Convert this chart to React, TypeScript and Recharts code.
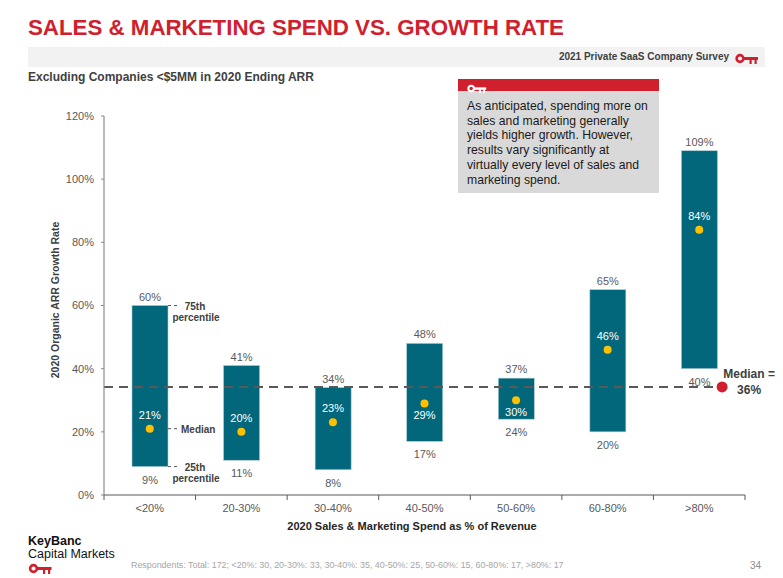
import React from "react";
import {
  ComposedChart,
  Bar,
  Scatter,
  XAxis,
  YAxis,
  ReferenceLine,
} from "recharts";

// spend buckets and growth percentiles
const categories = ["<20%", "20-30%", "30-40%", "40-50%", "50-60%", "60-80%", ">80%"];
const p25 = [9, 11, 8, 17, 24, 20, 40];
const p75 = [60, 41, 34, 48, 37, 65, 109];
const medians = [21, 20, 23, 29, 30, 46, 84];
const medianLabelBelow = ["40-50%", "50-60%"];
const yTicks = [0, 20, 40, 60, 80, 100, 120];
const overallMedianLevel = 34.2;
const overallMedianText = "36%";
const respondents =
  "Respondents: Total: 172; <20%: 30, 20-30%: 33, 30-40%: 35, 40-50%: 25, 50-60%: 15, 60-80%: 17, >80%: 17";

const data = categories.map((cat, i) => ({
  cat,
  range: [p25[i], p75[i]],
  low: p25[i],
  high: p75[i],
  median: medians[i],
}));

const FONT = "'Liberation Sans', Arial, sans-serif";
const RED = "#D0202E";
const TEAL = "#02677A";
const GREY = "#595959";
const DARK = "#404040";

const W = 783;
const H = 578;
const M = { top: 116, right: 38, bottom: 43, left: 44 };
const Y_W = 60;
const BAND = (W - M.left - Y_W - M.right) / categories.length;

function Key({ color = RED, w = 24, h = 12 }: { color?: string; w?: number; h?: number }) {
  return (
    <svg width={w} height={h} viewBox="0 0 24 12">
      <circle cx={5} cy={5.5} r={3.4} fill="none" stroke={color} strokeWidth={2.6} />
      <rect x={8} y={4} width={15} height={3} fill={color} />
      <rect x={14.5} y={6.5} width={2.2} height={4.5} fill={color} />
      <rect x={19.5} y={6.5} width={2.2} height={4.5} fill={color} />
    </svg>
  );
}

const BarShape = (props: any) => {
  const { x, y, width, height, payload } = props;
  const top = Math.min(y, y + height);
  const h = Math.abs(height);
  const bottom = top + h;
  const right = x + width;
  const cx = x + width / 2;
  const my = top + (h * (payload.high - payload.median)) / (payload.high - payload.low);
  const first = payload.cat === categories[0];
  const note = { fontSize: 10, fontWeight: 700, fill: DARK, fontFamily: FONT };
  return (
    <g>
      <rect x={x} y={top} width={width} height={h} fill={TEAL} stroke="#a9cbd3" strokeWidth={0.6} />
      <text x={cx} y={top - 5} textAnchor="middle" fontSize={11} fill={GREY} fontFamily={FONT}>
        {payload.high}%
      </text>
      <text x={cx} y={bottom + 17} textAnchor="middle" fontSize={11} fill={GREY} fontFamily={FONT}>
        {payload.low}%
      </text>
      {first && (
        <g>
          <line x1={right} x2={right + 10} y1={top} y2={top} stroke={GREY} strokeDasharray="3 3" />
          <text x={right + 27} y={top + 4} textAnchor="middle" {...note}>75th</text>
          <text x={right + 28} y={top + 15} textAnchor="middle" {...note}>percentile</text>
          <line x1={right} x2={right + 10} y1={my} y2={my} stroke={GREY} strokeDasharray="3 3" />
          <text x={right + 13} y={my + 4} {...note}>Median</text>
          <line x1={right} x2={right + 10} y1={bottom} y2={bottom} stroke={GREY} strokeDasharray="3 3" />
          <text x={right + 27} y={bottom + 4} textAnchor="middle" {...note}>25th</text>
          <text x={right + 28} y={bottom + 15} textAnchor="middle" {...note}>percentile</text>
        </g>
      )}
    </g>
  );
};

const MedianDot = (props: any) => {
  const { cx, cy, payload } = props;
  const below = medianLabelBelow.includes(payload.cat);
  return (
    <g>
      <circle cx={cx} cy={cy} r={4} fill="#FFC000" />
      <text
        x={cx}
        y={below ? cy + 16 : cy - 10}
        textAnchor="middle"
        fontSize={11}
        fill="#ffffff"
        fontFamily={FONT}
      >
        {payload.median}%
      </text>
    </g>
  );
};

const XTick = (props: any) => {
  const { x, y, payload, index } = props;
  const last = index === categories.length - 1;
  return (
    <g>
      <line x1={x - BAND / 2} x2={x - BAND / 2} y1={y} y2={y + 5} stroke={GREY} />
      {last && <line x1={x + BAND / 2} x2={x + BAND / 2} y1={y} y2={y + 5} stroke={GREY} />}
      <text x={x} y={y + 17} textAnchor="middle" fontSize={11} fill={GREY} fontFamily={FONT}>
        {payload.value}
      </text>
    </g>
  );
};

// dashed overall-median line that stops at a red dot inside the last band
const MedianLine = (props: any) => {
  const { x1, y1 } = props;
  const xEnd = x1 + BAND * 6.75;
  const st = { fontSize: 12, fontWeight: 700, fill: DARK, fontFamily: FONT };
  return (
    <g>
      <line x1={x1} x2={xEnd} y1={y1} y2={y1} stroke={GREY} strokeWidth={2} strokeDasharray="9 6" />
      <circle cx={xEnd} cy={y1} r={5.5} fill={RED} />
      <text x={xEnd + 27} y={y1 - 9} textAnchor="middle" {...st}>Median =</text>
      <text x={xEnd + 27} y={y1 + 7} textAnchor="middle" {...st}>{overallMedianText}</text>
    </g>
  );
};

export default function App() {
  return (
    <div
      style={{
        position: "absolute",
        left: 0,
        top: 0,
        width: W,
        height: H,
        background: "#fff",
        fontFamily: FONT,
        overflow: "hidden",
      }}
    >
      <ComposedChart width={W} height={H} data={data} margin={M}>
        <XAxis
          dataKey="cat"
          height={40}
          tickLine={false}
          tickSize={0}
          tickMargin={0}
          axisLine={{ stroke: GREY, strokeWidth: 1.2 }}
          tick={<XTick />}
          interval={0}
          label={{
            content: () => (
              <text x={412} y={530} textAnchor="middle" fontSize={11} fontWeight={700} fill="#262626" fontFamily={FONT}>
                2020 Sales &amp; Marketing Spend as % of Revenue
              </text>
            ),
          }}
        />
        <YAxis
          width={Y_W}
          domain={[0, 120]}
          ticks={yTicks}
          tickFormatter={(v: number) => `${v}%`}
          tick={{ fontSize: 11, fill: GREY, fontFamily: FONT }}
          tickSize={3}
          tickMargin={7}
          axisLine={{ stroke: "#8c8c8c", strokeWidth: 1.2 }}
          tickLine={{ stroke: "#8c8c8c" }}
          label={{
            content: () => (
              <text
                transform="translate(59,300) rotate(-90)"
                textAnchor="middle"
                fontSize={10.5}
                fontWeight={700}
                fill={DARK}
                fontFamily={FONT}
              >
                2020 Organic ARR Growth Rate
              </text>
            ),
          }}
        />
        <ReferenceLine y={overallMedianLevel} shape={<MedianLine />} ifOverflow="visible" />
        <Bar dataKey="range" barSize={36} shape={<BarShape />} isAnimationActive={false} />
        <Scatter dataKey="median" shape={<MedianDot />} isAnimationActive={false} />
      </ComposedChart>

      {/* header */}
      <div
        style={{
          position: "absolute",
          left: 28,
          top: 15,
          fontSize: 22.3,
          fontWeight: 700,
          color: RED,
          whiteSpace: "nowrap",
        }}
      >
        SALES &amp; MARKETING SPEND VS. GROWTH RATE
      </div>
      <div
        style={{
          position: "absolute",
          left: 28,
          top: 47,
          width: 737,
          height: 20,
          background: "#f2f2f2",
        }}
      />
      <div
        style={{
          position: "absolute",
          right: 54,
          top: 51,
          fontSize: 10,
          fontWeight: 700,
          color: DARK,
          whiteSpace: "nowrap",
        }}
      >
        2021 Private SaaS Company Survey
      </div>
      <div style={{ position: "absolute", left: 735, top: 51 }}>
        <Key />
      </div>
      <div
        style={{
          position: "absolute",
          left: 28,
          top: 70,
          fontSize: 12,
          fontWeight: 700,
          color: DARK,
          whiteSpace: "nowrap",
        }}
      >
        Excluding Companies &lt;$5MM in 2020 Ending ARR
      </div>

      {/* call-out box */}
      <div style={{ position: "absolute", left: 458, top: 79, width: 201 }}>
        <div style={{ height: 12, background: RED, paddingLeft: 9 }}>
          <div style={{ paddingTop: 1 }}>
            <Key color="#ffffff" w={20} h={10} />
          </div>
        </div>
        <div
          style={{
            background: "#d9d9d9",
            height: 102,
            boxSizing: "border-box",
            padding: "8px 0 0 9px",
            fontSize: 12.2,
            lineHeight: "14.7px",
            color: "#1a1a1a",
          }}
        >
          As anticipated, spending more on
          <br />
          sales and marketing generally
          <br />
          yields higher growth. However,
          <br />
          results vary significantly at
          <br />
          virtually every level of sales and
          <br />
          marketing spend.
        </div>
      </div>

      {/* footer */}
      <div style={{ position: "absolute", left: 28, top: 535, fontSize: 12.5, lineHeight: "13px", color: "#111" }}>
        <div style={{ fontWeight: 700 }}>KeyBanc</div>
        <div>Capital Markets</div>
      </div>
      <div style={{ position: "absolute", left: 28, top: 561 }}>
        <Key w={25} h={12} />
      </div>
      <div
        style={{
          position: "absolute",
          left: 131,
          top: 560,
          fontSize: 8.9,
          color: "#a6a6a6",
          whiteSpace: "nowrap",
        }}
      >
        {respondents}
      </div>
      <div style={{ position: "absolute", left: 750, top: 560, fontSize: 10, color: "#8c8c8c" }}>34</div>
    </div>
  );
}
